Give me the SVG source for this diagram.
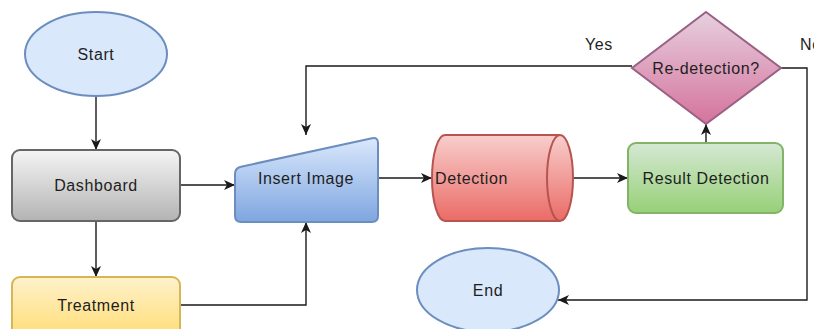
<svg xmlns="http://www.w3.org/2000/svg" width="814" height="329" viewBox="0 0 814 329">
<style>
  text { font-family: "Liberation Sans", Arial, sans-serif; font-size: 16px; fill: #1e1e1e; letter-spacing: 0.6px; }
  .c { text-anchor: middle; }
  .edge { fill: none; stroke: #1a1a1a; stroke-width: 1.4; }
  .shape { stroke-width: 2; }
</style>
<defs>
  <marker id="arr" markerUnits="userSpaceOnUse" markerWidth="12" markerHeight="10" refX="11" refY="5" orient="auto">
    <path d="M0,0 L11,5 L0,10 L3,5 Z" fill="#1a1a1a"/>
  </marker>
  <linearGradient id="gGray" x1="0" y1="0" x2="0" y2="1"><stop offset="0" stop-color="#f5f5f5"/><stop offset="1" stop-color="#b3b3b3"/></linearGradient>
  <linearGradient id="gYellow" x1="0" y1="0" x2="0" y2="1"><stop offset="0" stop-color="#fff2cc"/><stop offset="1" stop-color="#ffd966"/></linearGradient>
  <linearGradient id="gBlue" x1="0" y1="0" x2="0" y2="1"><stop offset="0" stop-color="#dae8fc"/><stop offset="1" stop-color="#7ea6e0"/></linearGradient>
  <linearGradient id="gRed" x1="0" y1="0" x2="0" y2="1"><stop offset="0" stop-color="#f8cecc"/><stop offset="1" stop-color="#ea6b66"/></linearGradient>
  <linearGradient id="gGreen" x1="0" y1="0" x2="0" y2="1"><stop offset="0" stop-color="#d5e8d4"/><stop offset="1" stop-color="#97d077"/></linearGradient>
  <linearGradient id="gPurple" x1="0" y1="0" x2="0" y2="1"><stop offset="0" stop-color="#e6d0de"/><stop offset="1" stop-color="#d5739d"/></linearGradient>
</defs>
<rect width="814" height="329" fill="#ffffff"/>

<g id="connectors">
  <path class="edge" d="M96,97 L96,150" marker-end="url(#arr)"/>
  <path class="edge" d="M180,185 L235,185" marker-end="url(#arr)"/>
  <path class="edge" d="M96,221 L96,277" marker-end="url(#arr)"/>
  <path class="edge" d="M180,305 L306,305 L306,222" marker-end="url(#arr)"/>
  <path class="edge" d="M378,178 L432,178" marker-end="url(#arr)"/>
  <path class="edge" d="M573,178 L628,178" marker-end="url(#arr)"/>
  <path class="edge" d="M706,143 L706,124" marker-end="url(#arr)"/>
  <path class="edge" d="M632,66 L306,66 L306,135" marker-end="url(#arr)"/>
  <path class="edge" d="M781,68 L807,68 L807,300 L558,300" marker-end="url(#arr)"/>
  <text class="c" x="599" y="50">Yes</text>
  <text x="800" y="50">No</text>
</g>

<g id="start">
  <ellipse class="shape" cx="96" cy="54" rx="71" ry="42" fill="#dae8fc" stroke="#6c8ebf"/>
  <text class="c" x="96" y="60">Start</text>
</g>

<g id="dashboard">
  <rect class="shape" x="12" y="150" width="168" height="71" rx="8" fill="url(#gGray)" stroke="#666666"/>
  <text class="c" x="96" y="191">Dashboard</text>
</g>

<g id="treatment">
  <rect class="shape" x="12" y="277" width="168" height="71" rx="8" fill="url(#gYellow)" stroke="#d6b656"/>
  <text class="c" x="96" y="311">Treatment</text>
</g>

<g id="insert-image">
  <path class="shape" d="M235,174 Q235,168 241,166.7 L372,138.3 Q378,137 378,143 L378,216 Q378,222 372,222 L241,222 Q235,222 235,216 Z" fill="url(#gBlue)" stroke="#6c8ebf"/>
  <text class="c" x="306" y="184">Insert Image</text>
</g>

<g id="detection">
  <path class="shape" d="M445,135 L560,135 A13,43 0 0 1 560,221 L445,221 A13,43 0 0 1 445,135 Z" fill="url(#gRed)" stroke="#b85450"/>
  <path class="shape" d="M560,135 A13,43 0 0 0 560,221" fill="none" stroke="#b85450"/>
  <text x="435" y="184">Detection</text>
</g>

<g id="result-detection">
  <rect class="shape" x="628" y="143" width="155" height="70" rx="8" fill="url(#gGreen)" stroke="#82b366"/>
  <text class="c" x="706" y="184">Result Detection</text>
</g>

<g id="re-detection">
  <path class="shape" d="M706,12 L781,68 L706,124 L632,68 Z" fill="url(#gPurple)" stroke="#996185"/>
  <text class="c" x="706" y="74">Re-detection?</text>
</g>

<g id="end">
  <ellipse class="shape" cx="488" cy="290" rx="71" ry="42" fill="#dae8fc" stroke="#6c8ebf"/>
  <text class="c" x="488" y="296">End</text>
</g>
</svg>
